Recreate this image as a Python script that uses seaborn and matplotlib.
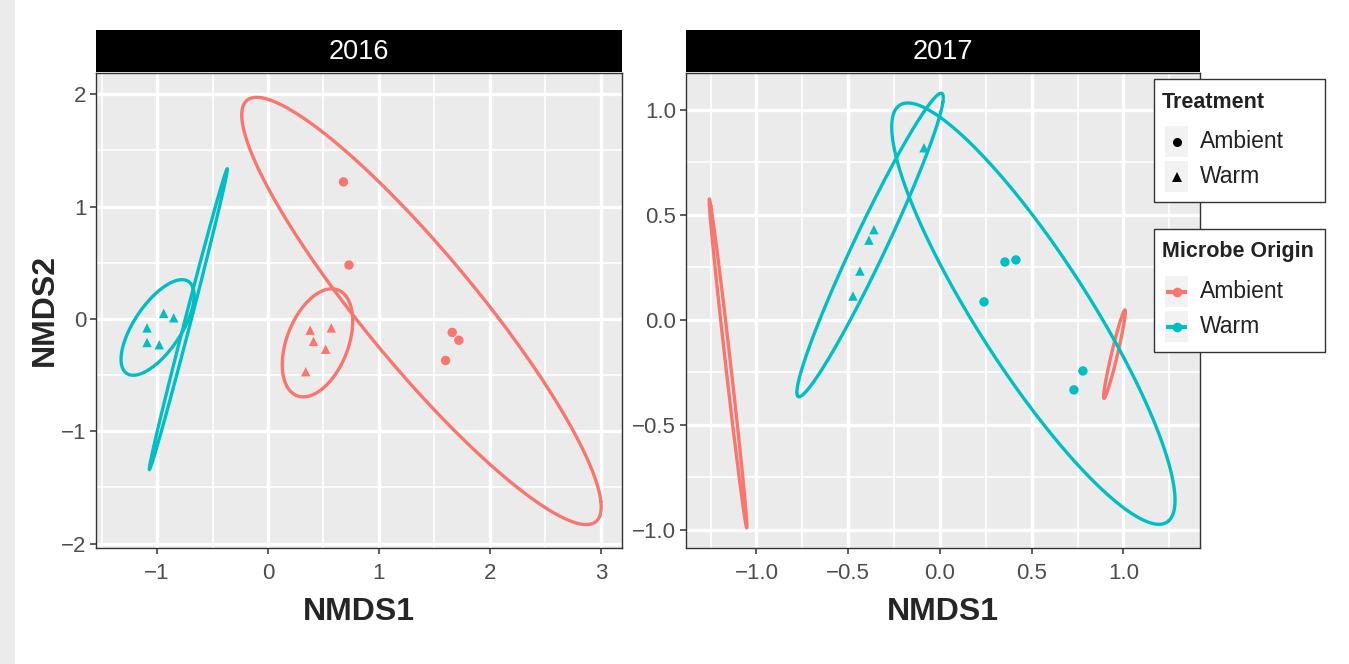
import numpy as np
import pandas as pd
import matplotlib
matplotlib.use("Agg")
import matplotlib.pyplot as plt
from matplotlib.patches import Rectangle
from matplotlib import font_manager
import seaborn as sns

# ---- NMDS site scores ----
pt_year = [2016] * 15 + [2017] * 10
pt_origin = ["Warm"] * 5 + ["Ambient"] * 10 + ["Warm"] * 10
pt_treatment = ["Warm"] * 10 + ["Ambient"] * 5 + ["Warm"] * 5 + ["Ambient"] * 5
pt_nmds1 = [-0.94, -0.85, -1.09, -1.09, -0.98,
            0.38, 0.57, 0.41, 0.52, 0.34,
            0.68, 0.73, 1.66, 1.72, 1.60,
            -0.36, -0.387, -0.436, -0.474, -0.087,
            0.354, 0.414, 0.24, 0.779, 0.73]
pt_nmds2 = [0.05, 0.01, -0.08, -0.21, -0.23,
            -0.10, -0.08, -0.20, -0.27, -0.47,
            1.22, 0.48, -0.12, -0.19, -0.37,
            0.43, 0.38, 0.233, 0.114, 0.82,
            0.276, 0.286, 0.086, -0.243, -0.333]

# ---- confidence ellipses: centre + two conjugate semi-diameters ----
ell_year = [2016, 2016, 2016, 2016, 2017, 2017, 2017, 2017]
ell_origin = ["Ambient", "Ambient", "Warm", "Warm", "Ambient", "Ambient", "Warm", "Warm"]
ell_cx = [1.383, 0.446, -0.995, -0.718, -1.155, 0.951, -0.381, 0.509]
ell_cy = [0.071, -0.213, -0.076, -0.002, -0.207, -0.163, 0.357, 0.030]
ell_ux = [1.572, 0.185, 0.279, 0.351, -0.102, 0.0572, 0.391, 0.772]
ell_uy = [-1.876, 0.471, 0.409, 1.340, 0.783, 0.2105, 0.722, -0.889]
ell_vx = [0.389, 0.258, 0.175, 0.026, 0.0136, 0.0159, 0.0788, 0.0]
ell_vy = [0.317, -0.099, -0.118, -0.0067, 0.0013, -0.0033, -0.0325, -0.465]

years = [2016, 2017]
x_limits = {2016: (-1.55, 3.19), 2017: (-1.384, 1.417)}
y_limits = {2016: (-2.04, 2.19), 2017: (-1.086, 1.176)}
x_major = {2016: [-1, 0, 1, 2, 3], 2017: [-1.0, -0.5, 0.0, 0.5, 1.0]}
x_minor = {2016: [-1.5, -0.5, 0.5, 1.5, 2.5], 2017: [-1.25, -0.75, -0.25, 0.25, 0.75, 1.25]}
y_major = {2016: [-2, -1, 0, 1, 2], 2017: [-1.0, -0.5, 0.0, 0.5, 1.0]}
y_minor = {2016: [-1.5, -0.5, 0.5, 1.5], 2017: [-0.75, -0.25, 0.25, 0.75]}
x_ticklabels = {2016: ["\u22121", "0", "1", "2", "3"],
                2017: ["\u22121.0", "\u22120.5", "0.0", "0.5", "1.0"]}
y_ticklabels = {2016: ["\u22122", "\u22121", "0", "1", "2"],
                2017: ["\u22121.0", "\u22120.5", "0.0", "0.5", "1.0"]}

palette = {"Ambient": "#F8766D", "Warm": "#00BFC4"}
markers = {"Ambient": "o", "Warm": "^"}

points = pd.DataFrame({"year": pt_year, "origin": pt_origin, "treatment": pt_treatment,
                       "NMDS1": pt_nmds1, "NMDS2": pt_nmds2})

t = np.linspace(0.3, 0.3 + 2 * np.pi, 361)
rows = []
for i in range(len(ell_year)):
    ex = ell_cx[i] + ell_ux[i] * np.cos(t) + ell_vx[i] * np.sin(t)
    ey = ell_cy[i] + ell_uy[i] * np.cos(t) + ell_vy[i] * np.sin(t)
    rows.append(pd.DataFrame({"eid": i, "year": ell_year[i], "origin": ell_origin[i],
                              "NMDS1": ex, "NMDS2": ey}))
ellipses = pd.concat(rows, ignore_index=True)

sns.set_style("darkgrid", {"axes.facecolor": "#EBEBEB", "grid.color": "white"})

available = {f.name for f in font_manager.fontManager.ttflist}
narrow = "Liberation Sans Narrow" if "Liberation Sans Narrow" in available else "Liberation Sans"
plt.rcParams["font.family"] = [narrow, "DejaVu Sans"]

W, H = 1349, 664
fig = plt.figure(figsize=(W / 100, H / 100), dpi=100)
fig.patches.append(Rectangle((0, 0), 15 / W, 1, transform=fig.transFigure,
                             facecolor="#EBEBEB", edgecolor="none", zorder=0))

panel_px = {2016: (96, 622), 2017: (686, 1200)}
top_px, bottom_px, strip_top = 73, 548, 30

for yr in years:
    x0, x1 = panel_px[yr]
    ax = fig.add_axes([x0 / W, 1 - bottom_px / H, (x1 - x0) / W, (bottom_px - top_px) / H])
    ax.set_facecolor("#EBEBEB")
    sub_e = ellipses[ellipses.year == yr]
    sns.lineplot(data=sub_e, x="NMDS1", y="NMDS2", hue="origin", units="eid",
                 estimator=None, sort=False, palette=palette, lw=2.4, ax=ax,
                 legend=False, zorder=3, solid_joinstyle="round", solid_capstyle="round")
    sub_p = points[points.year == yr]
    sns.scatterplot(data=sub_p, x="NMDS1", y="NMDS2", hue="origin", style="treatment",
                    markers=markers, palette=palette, s=46, linewidth=0, ax=ax,
                    legend=False, zorder=4)
    ax.set_xlim(*x_limits[yr])
    ax.set_ylim(*y_limits[yr])
    ax.set_xticks(x_major[yr])
    ax.set_xticks(x_minor[yr], minor=True)
    ax.set_yticks(y_major[yr])
    ax.set_yticks(y_minor[yr], minor=True)
    ax.set_xticklabels(x_ticklabels[yr])
    ax.set_yticklabels(y_ticklabels[yr])
    ax.grid(which="major", color="white", lw=2.4)
    ax.grid(which="minor", color="white", lw=1.2)
    ax.set_axisbelow(True)
    ax.tick_params(which="major", length=4, width=1.1, color="#333333",
                   labelcolor="#4D4D4D", labelsize=16, pad=3, left=True, bottom=True)
    ax.tick_params(axis="x", which="major", pad=7)
    ax.tick_params(which="minor", length=0)
    for sp in ax.spines.values():
        sp.set_visible(True)
        sp.set_color("#333333")
        sp.set_linewidth(1.0)
    ax.set_xlabel("NMDS1", fontsize=23, fontweight="bold", family="Liberation Sans",
                  labelpad=9)
    if yr == 2016:
        ax.set_ylabel("NMDS2", fontsize=23, fontweight="bold", family="Liberation Sans",
                      labelpad=1)
    else:
        ax.set_ylabel("")

    sax = fig.add_axes([x0 / W, 1 - (top_px - 1) / H, (x1 - x0) / W, (top_px - 1 - strip_top) / H])
    sax.set_facecolor("black")
    sax.set_xticks([])
    sax.set_yticks([])
    for sp in sax.spines.values():
        sp.set_visible(False)
    sax.text(0.5, 0.48, str(yr), color="white", fontsize=19.5, ha="center", va="center",
             transform=sax.transAxes)

# ---- legends ----
lax = fig.add_axes([0, 0, 1, 1], zorder=10)
lax.set_xlim(0, W)
lax.set_ylim(H, 0)
lax.axis("off")

def legend_box(top, title, entries):
    lax.add_patch(Rectangle((1154, top), 171, 123, facecolor="white",
                            edgecolor="#333333", lw=1.0))
    lax.text(1162, top + 23, title, fontsize=15.5, fontweight="bold", color="#222222",
             ha="left", va="center")
    for k, (label, kind, color) in enumerate(entries):
        ky = top + 47 + 35 * k
        lax.add_patch(Rectangle((1165, ky), 23, 31, facecolor="#F2F2F2", edgecolor="none"))
        cy = ky + 15.5
        if kind == "line":
            lax.plot([1166, 1187], [cy, cy], color=color, lw=3, solid_capstyle="butt")
            lax.plot([1176.5], [cy], marker="o", color=color, ms=7, mew=0)
        else:
            lax.plot([1176.5], [cy], marker=kind, color=color, ms=6.5, mew=0)
        lax.text(1200, cy, label, fontsize=16.5, color="#222222", ha="left", va="center")

legend_box(79, "Treatment", [("Ambient", "o", "black"), ("Warm", "^", "black")])
legend_box(229, "Microbe Origin", [("Ambient", "line", palette["Ambient"]),
                                   ("Warm", "line", palette["Warm"])])

fig.savefig("out.png", dpi=100, facecolor="white")
